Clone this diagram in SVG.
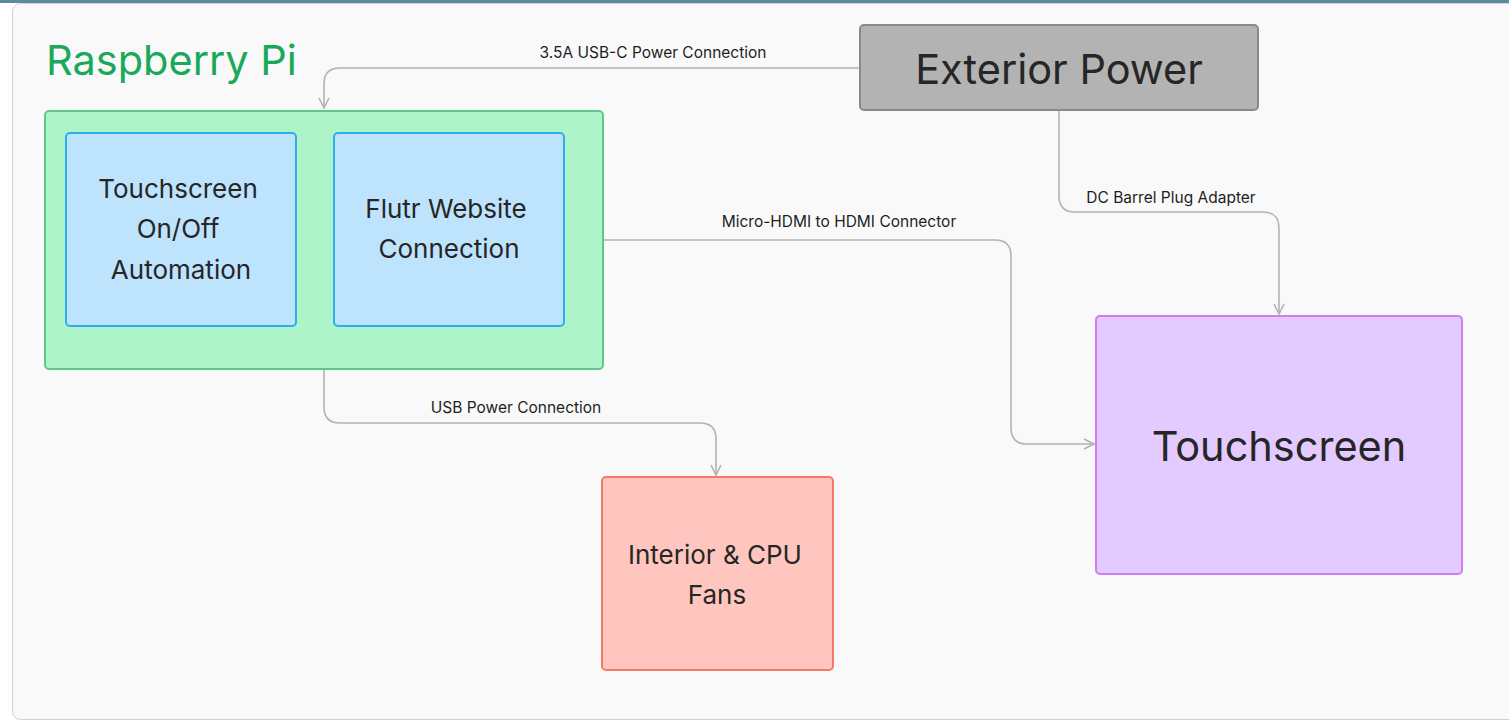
<svg xmlns="http://www.w3.org/2000/svg" width="1509" height="721" viewBox="0 0 1509 721">
<defs>
<style>
.lbl{font-family:Inter,"Liberation Sans",sans-serif;font-size:15.5px;fill:#1e1e1e;text-anchor:middle}
.nt{font-family:Inter,"Liberation Sans",sans-serif;fill:#262626;text-anchor:middle}
.conn{fill:none;stroke:#b3b3b3;stroke-width:1.6}
</style>
<marker id="arr" viewBox="0 0 12 12" refX="11" refY="6" markerWidth="12" markerHeight="12" markerUnits="userSpaceOnUse" orient="auto">
<path d="M1,1 L11,6 L1,11" fill="none" stroke="#b3b3b3" stroke-width="1.6"/>
</marker>
</defs>
<rect x="0" y="0" width="1509" height="721" fill="#ffffff"/>
<rect x="0" y="0" width="1509" height="3" fill="#5b8c9b"/>
<rect x="12.5" y="3.5" width="1510" height="716" rx="8" fill="#f9f9f9" stroke="#d0d0d0" stroke-width="1"/>
<g id="connectors">
<path class="conn" d="M860,68 H340 Q324,68 324,84 V108" marker-end="url(#arr)"/>
<text class="lbl" x="653" y="58">3.5A USB-C Power Connection</text>
<path class="conn" d="M324,369 V407 Q324,423 340,423 H700 Q716,423 716,439 V475" marker-end="url(#arr)"/>
<text class="lbl" x="516" y="413">USB Power Connection</text>
<path class="conn" d="M603,240 H995 Q1011,240 1011,256 V428 Q1011,444 1027,444 H1094" marker-end="url(#arr)"/>
<text class="lbl" x="839" y="227">Micro-HDMI to HDMI Connector</text>
<path class="conn" d="M1059,110 V196 Q1059,212 1075,212 H1263 Q1279,212 1279,228 V314" marker-end="url(#arr)"/>
<text class="lbl" x="1171" y="203">DC Barrel Plug Adapter</text>
</g>
<g id="raspberry-pi">
<text x="46" y="75" font-family="Inter,'Liberation Sans',sans-serif" font-size="41.5" fill="#1aa85a">Raspberry Pi</text>
<rect x="45" y="111" width="558" height="258" rx="4" fill="#adf5c8" stroke="#63c48c" stroke-width="2"/>
</g>
<g id="touchscreen-automation">
<rect x="66" y="133" width="230" height="193" rx="4" fill="#bde3fd" stroke="#2caef0" stroke-width="2"/>
<text class="nt" font-size="26" x="178" y="198">Touchscreen</text>
<text class="nt" font-size="26" x="178" y="238">On/Off</text>
<text class="nt" font-size="26" x="181" y="279">Automation</text>
</g>
<g id="flutr-website">
<rect x="334" y="133" width="230" height="193" rx="4" fill="#bde3fd" stroke="#2caef0" stroke-width="2"/>
<text class="nt" font-size="26" x="446" y="218">Flutr Website</text>
<text class="nt" font-size="26" x="449" y="258">Connection</text>
</g>
<g id="exterior-power">
<rect x="860" y="25" width="398" height="85" rx="4" fill="#b3b3b3" stroke="#8a8a8a" stroke-width="2"/>
<text class="nt" font-size="41.5" x="1059" y="84" fill="#222">Exterior Power</text>
</g>
<g id="touchscreen">
<rect x="1096" y="316" width="366" height="258" rx="4" fill="#e3caff" stroke="#d07cf6" stroke-width="2"/>
<text class="nt" font-size="41.5" x="1279" y="461" fill="#2a2230">Touchscreen</text>
</g>
<g id="fans">
<rect x="602" y="477" width="231" height="193" rx="4" fill="#ffc6c0" stroke="#f27b68" stroke-width="2"/>
<text class="nt" font-size="26" x="715" y="564">Interior &amp; CPU</text>
<text class="nt" font-size="26" x="717" y="604">Fans</text>
</g>
</svg>
